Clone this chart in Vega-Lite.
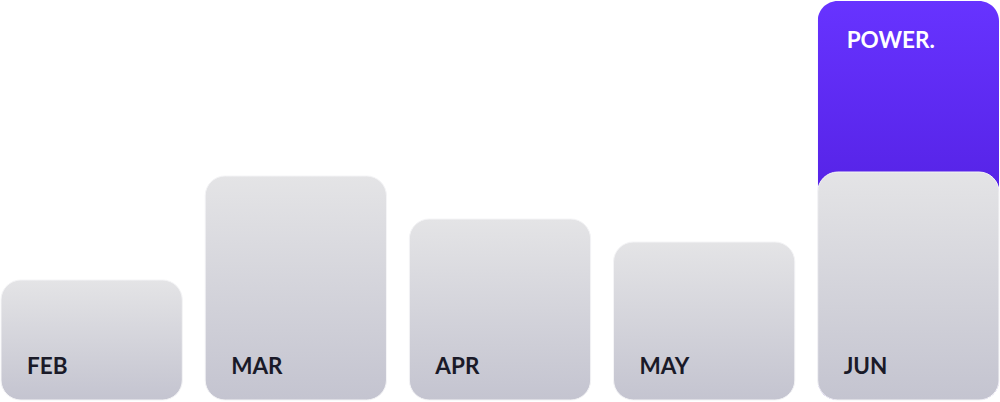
{
  "$schema": "https://vega.github.io/schema/vega-lite/v6.json",
  "autosize": {"type": "fit", "contains": "padding"},
  "width": 1000,
  "height": 402,
  "padding": 0,
  "background": "#ffffff",
  "config": {"view": {"stroke": null}},
  "data": {
    "values": [
      {"month": "FEB", "value": 30, "power": null, "powerLabel": ""},
      {"month": "MAR", "value": 56, "power": null, "powerLabel": ""},
      {"month": "APR", "value": 45.25, "power": null, "powerLabel": ""},
      {"month": "MAY", "value": 39.5, "power": null, "powerLabel": ""},
      {"month": "JUN", "value": 57, "power": 99.75, "powerLabel": "POWER."}
    ]
  },
  "encoding": {
    "x": {
      "field": "month",
      "type": "nominal",
      "sort": null,
      "axis": null,
      "scale": {"domain": ["FEB", "MAR", "APR", "MAY", "JUN"], "paddingInner": 0.112, "paddingOuter": 0}
    }
  },
  "layer": [
    {
      "transform": [{"filter": "datum.power != null"}],
      "mark": {
        "type": "bar",
        "cornerRadius": 20,
        "fill": {
          "gradient": "linear",
          "x1": 0, "y1": 0, "x2": 0, "y2": 1,
          "stops": [
            {"offset": 0, "color": "#6733ff"},
            {"offset": 1, "color": "#4412cc"}
          ]
        }
      },
      "encoding": {
        "y": {"field": "power", "type": "quantitative", "axis": null, "scale": {"domain": [-0.5, 100], "nice": false, "zero": false}}
      }
    },
    {
      "mark": {
        "type": "bar",
        "cornerRadius": 20,
        "stroke": "#f4f4f6",
        "strokeWidth": 1,
        "fill": {
          "gradient": "linear",
          "x1": 0, "y1": 0, "x2": 0, "y2": 1,
          "stops": [
            {"offset": 0, "color": "#e4e4e6"},
            {"offset": 1, "color": "#c4c4d0"}
          ]
        }
      },
      "encoding": {
        "y": {"field": "value", "type": "quantitative", "axis": null, "scale": {"domain": [-0.5, 100], "nice": false, "zero": false}},
        "y2": {"datum": 0}
      }
    },
    {
      "mark": {
        "type": "text",
        "align": "left",
        "baseline": "alphabetic",
        "dx": 26,
        "font": "Lato",
        "fontWeight": "bold",
        "fontSize": 22.5,
        "fill": "#1a1a28"
      },
      "encoding": {
        "x": {"field": "month", "type": "nominal", "sort": null, "bandPosition": 0},
        "y": {"datum": 6.5},
        "text": {"field": "month"}
      }
    },
    {
      "transform": [{"filter": "datum.power != null"}],
      "mark": {
        "type": "text",
        "align": "left",
        "baseline": "alphabetic",
        "dx": 29,
        "font": "Lato",
        "fontWeight": "bold",
        "fontSize": 22.5,
        "fill": "#ffffff"
      },
      "encoding": {
        "x": {"field": "month", "type": "nominal", "sort": null, "bandPosition": 0},
        "y": {"datum": 88},
        "text": {"field": "powerLabel"}
      }
    }
  ]
}
